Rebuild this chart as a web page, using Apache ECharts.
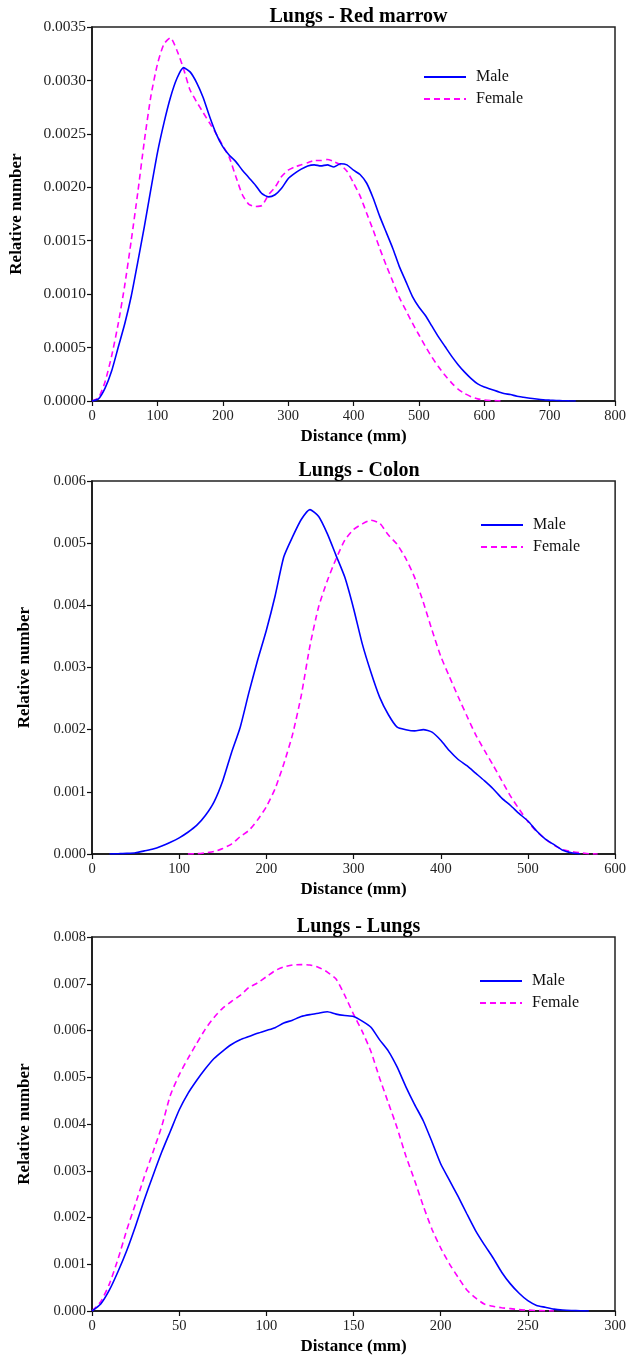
<!DOCTYPE html>
<html>
<head>
<meta charset="utf-8">
<script src="https://cdn.jsdelivr.net/npm/echarts@6/dist/echarts.min.js"></script>
<style>
html,body{margin:0;padding:0;background:#fff;}
#chart{width:629px;height:1358px;}
</style>
</head>
<body>
<div id="chart"></div>
<script>
// ---------- Data ----------
const titles = ["Lungs - Red marrow", "Lungs - Colon", "Lungs - Lungs"];
const seriesNames = ["Male", "Female"];

// Chart 1: Lungs - Red marrow
const rmMaleX = [0,10,20,30,40,50,60,70,80,90,100,110,120,130,140,150,160,170,180,190,200,210,220,230,240,250,260,270,280,290,300,310,320,330,340,350,360,370,380,390,400,410,420,430,440,450,460,470,480,490,500,510,520,530,540,550,560,570,580,590,600,610,620,630,640,650,660,670,680,690,700,710,720,730,740];
const rmMaleY = [0,0.00002,0.00012,0.00028,0.0005,0.00072,0.00098,0.0013,0.00163,0.00198,0.00232,0.0026,0.00284,0.00302,0.00312,0.00308,0.00298,0.00284,0.00266,0.0025,0.00238,0.0023,0.00224,0.00216,0.00209,0.00202,0.00194,0.00191,0.00193,0.00199,0.00208,0.00213,0.00217,0.0022,0.00221,0.0022,0.00221,0.00219,0.00222,0.00221,0.00216,0.00212,0.00204,0.0019,0.00173,0.00158,0.00143,0.00126,0.00112,0.00098,0.00088,0.0008,0.0007,0.0006,0.00051,0.00042,0.00034,0.00027,0.00021,0.00016,0.00013,0.00011,0.00009,0.00007,0.00006,0.000045,0.000035,0.000025,0.000018,0.000012,0.000008,0.000005,0.000003,0.000001,0];
const rmFemaleX = [0,10,20,30,40,50,60,70,80,90,100,110,120,130,140,150,160,170,180,190,200,210,220,230,240,250,260,270,280,290,300,310,320,330,340,350,360,370,380,390,400,410,420,430,440,450,460,470,480,490,500,510,520,530,540,550,560,570,580,590,600,610,620,630];
const rmFemaleY = [0,0.00003,0.00018,0.00042,0.00072,0.00108,0.0015,0.00195,0.00243,0.00285,0.00315,0.00334,0.0034,0.00328,0.00311,0.00291,0.0028,0.0027,0.0026,0.0025,0.00239,0.00228,0.0021,0.00193,0.00184,0.00182,0.00183,0.00193,0.002,0.0021,0.00216,0.00219,0.00221,0.00223,0.00225,0.00225,0.00226,0.00224,0.00221,0.00215,0.00204,0.00192,0.00176,0.0016,0.00143,0.00127,0.00112,0.00097,0.00085,0.00073,0.00062,0.00051,0.00041,0.00032,0.00024,0.00017,0.00011,0.00007,0.00004,0.00002,0.00001,0.000005,0.000002,0];

// Chart 2: Lungs - Colon
const coMaleX = [20,30,40,50,60,70,80,90,100,110,120,130,140,150,160,170,180,190,200,210,220,230,240,250,260,270,280,290,300,310,320,330,340,350,360,370,380,390,400,410,420,430,440,450,460,470,480,490,500,510,520,530,540,550,560];
const coMaleY = [0,0.000005,0.00001,0.00002,0.00005,0.00008,0.00013,0.00019,0.00026,0.00035,0.00046,0.00062,0.00084,0.00118,0.00163,0.00204,0.0026,0.00312,0.0036,0.00415,0.00478,0.0051,0.00538,0.00554,0.00543,0.00515,0.0048,0.00445,0.00395,0.00338,0.00292,0.00252,0.00224,0.00204,0.002,0.00198,0.002,0.00196,0.00183,0.00166,0.00152,0.00142,0.0013,0.00118,0.00105,0.0009,0.00078,0.00065,0.00053,0.00037,0.00024,0.00015,0.00006,0.00002,0];
const coFemaleX = [110,120,130,140,150,160,170,180,190,200,210,220,230,240,250,260,270,280,290,300,310,320,330,340,350,360,370,380,390,400,410,420,430,440,450,460,470,480,490,500,510,520,530,540,550,560,570,580];
const coFemaleY = [0,0.000005,0.00002,0.00004,0.00009,0.00016,0.00028,0.00038,0.00055,0.00076,0.00105,0.00145,0.00192,0.00255,0.00335,0.00398,0.0044,0.00475,0.00505,0.00522,0.00531,0.00537,0.00532,0.00513,0.00498,0.00475,0.00445,0.00405,0.0036,0.00318,0.00285,0.00253,0.00222,0.00192,0.00167,0.00143,0.00118,0.00093,0.00072,0.00052,0.00036,0.00024,0.00014,0.00007,0.00004,0.00002,0.000005,0];

// Chart 3: Lungs - Lungs
const luMaleX = [0,5,10,15,20,25,30,35,40,45,50,55,60,65,70,75,80,85,90,95,100,105,110,115,120,125,130,135,140,145,150,155,160,165,170,175,180,185,190,195,200,205,210,215,220,225,230,235,240,245,250,255,260,265,270,275,280,285];
const luMaleY = [0,0.00015,0.00045,0.00085,0.0013,0.00182,0.00238,0.0029,0.0034,0.00385,0.0043,0.00465,0.00493,0.00518,0.0054,0.00556,0.0057,0.0058,0.00587,0.00594,0.006,0.00606,0.00616,0.00622,0.0063,0.00634,0.00637,0.0064,0.00635,0.00632,0.0063,0.0062,0.00607,0.0058,0.00556,0.00522,0.0048,0.00442,0.00407,0.00362,0.00315,0.0028,0.00245,0.00208,0.00172,0.00142,0.00114,0.00083,0.00058,0.00038,0.00022,0.00012,0.00008,0.00004,0.00002,0.00001,0.000005,0];
const luFemaleX = [0,5,10,15,20,25,30,35,40,45,50,55,60,65,70,75,80,85,90,95,100,105,110,115,120,125,130,135,140,145,150,155,160,165,170,175,180,185,190,195,200,205,210,215,220,225,230,235,240,245,250,255,260,265];
const luFemaleY = [0,0.0002,0.00058,0.00112,0.00174,0.0023,0.00287,0.0034,0.00395,0.00462,0.00505,0.0054,0.00572,0.00603,0.00628,0.00648,0.00662,0.00675,0.00692,0.00702,0.00715,0.00728,0.00736,0.0074,0.00741,0.0074,0.00735,0.00725,0.0071,0.00675,0.00635,0.00598,0.00555,0.00498,0.00445,0.00392,0.00332,0.0028,0.00225,0.00175,0.00135,0.00101,0.00072,0.00045,0.00028,0.00015,0.0001,0.00007,0.00005,0.00003,0.00002,0.00001,0.000005,0];

// Axis settings (ranges / tick steps)
const xMax = [800, 600, 300];
const xStep = [100, 100, 50];
const yMax = [0.0035, 0.006, 0.008];
const yStep = [0.0005, 0.001, 0.001];
const yDecimals = [4, 3, 3];
const xAxisName = "Distance (mm)";
const yAxisName = "Relative number";

// ---------- Build ----------
const zip = (xs, ys) => xs.map((x, i) => [x, ys[i]]);
const data = [
  [zip(rmMaleX, rmMaleY), zip(rmFemaleX, rmFemaleY)],
  [zip(coMaleX, coMaleY), zip(coFemaleX, coFemaleY)],
  [zip(luMaleX, luMaleY), zip(luFemaleX, luFemaleY)]
];

const serif = "'Liberation Serif','Times New Roman',serif";
const grids = [
  {left: 92, top: 27, width: 523, height: 374},
  {left: 92, top: 481, width: 524, height: 373},
  {left: 92, top: 937, width: 523, height: 374}
];
const yNameGap = [67, 59, 59];
const legendPos = [
  {left: 423, top: 69},
  {left: 480, top: 517},
  {left: 479, top: 973}
];
const colors = ["#0000ff", "#ff00ff"];

const option = {
  animation: false,
  backgroundColor: "#fff",
  title: grids.map((g, i) => ({
    text: titles[i],
    left: g.left + g.width / 2,
    textAlign: "center",
    top: g.top - 25,
    textStyle: {fontFamily: serif, fontSize: 20, fontWeight: "bold", color: "#000"}
  })),
  legend: legendPos.map((p, i) => ({
    show: true,
    left: p.left, top: p.top, orient: "vertical", padding: 0,
    itemWidth: 42, itemHeight: 14, itemGap: 6,
    data: seriesNames.map(n => n + "_" + i),
    formatter: n => n.split("_")[0],
    itemStyle: {opacity: 0},
    textStyle: {fontFamily: serif, fontSize: 16, color: "#111", padding: [0, 0, 0, 5]}
  })),
  grid: grids.map(g => Object.assign({show: true, borderColor: "#222", borderWidth: 1.5, backgroundColor: "transparent", containLabel: false}, g)),
  xAxis: grids.map((g, i) => ({
    type: "value", gridIndex: i, min: 0, max: xMax[i], interval: xStep[i],
    name: xAxisName, nameLocation: "middle", nameGap: 27,
    nameTextStyle: {fontFamily: serif, fontSize: 17, fontWeight: "bold", color: "#000"},
    axisLine: {show: true, onZero: false, lineStyle: {color: "#111", width: 1.5}},
    axisTick: {show: true, inside: false, length: 5, lineStyle: {color: "#111", width: 1.2}},
    axisLabel: {fontFamily: serif, fontSize: 14.5, color: "#222", margin: 8},
    splitLine: {show: false}
  })),
  yAxis: grids.map((g, i) => ({
    type: "value", gridIndex: i, min: 0, max: yMax[i], interval: yStep[i],
    name: yAxisName, nameLocation: "middle", nameGap: yNameGap[i], nameRotate: 90,
    nameTextStyle: {fontFamily: serif, fontSize: 17, fontWeight: "bold", color: "#000"},
    axisLine: {show: true, onZero: false, lineStyle: {color: "#111", width: 1.5}},
    axisTick: {show: true, inside: false, length: 5, lineStyle: {color: "#111", width: 1.2}},
    axisLabel: {fontFamily: serif, fontSize: i === 0 ? 15.5 : 14.5, color: "#222", margin: 6,
      formatter: v => v.toFixed(yDecimals[i])},
    splitLine: {show: false}
  })),
  series: []
};

data.forEach((pair, i) => {
  pair.forEach((d, k) => {
    option.series.push({
      name: seriesNames[k] + "_" + i,
      type: "line",
      xAxisIndex: i, yAxisIndex: i,
      data: d,
      showSymbol: false, symbol: "none",
      smooth: 0.2,
      lineStyle: {color: colors[k], width: 1.6, type: k === 0 ? "solid" : [6, 4]},
      itemStyle: {color: colors[k]},
      z: k === 0 ? 3 : 2
    });
  });
});

const chart = echarts.init(document.getElementById("chart"), null, {renderer: "canvas"});
chart.setOption(option);
</script>
</body>
</html>
